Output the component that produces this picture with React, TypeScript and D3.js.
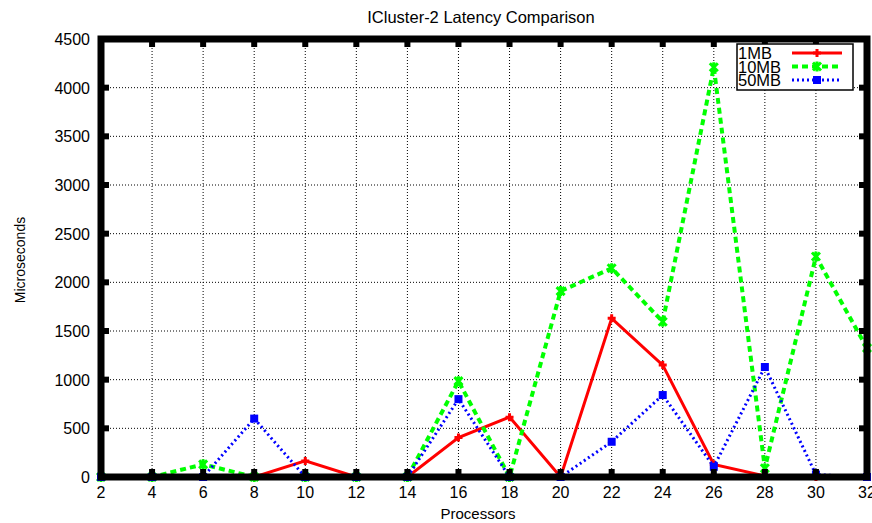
import { useRef, useEffect } from 'react';
import * as d3 from 'd3';

const processors = [2, 4, 6, 8, 10, 12, 14, 16, 18, 20, 22, 24, 26, 28, 30, 32];
const mb1 = [0, 0, 0, 0, 165, 0, 0, 405, 615, 0, 1630, 1150, 130, 10, 0, 0];
const mb10 = [0, 0, 130, 0, 0, 0, 0, 985, 0, 1910, 2145, 1595, 4210, 90, 2265, 1325];
const mb50 = [0, 0, 0, 600, 0, 0, 0, 800, 0, 0, 362, 842, 105, 1130, 25, 0];
const yTicks = [0, 500, 1000, 1500, 2000, 2500, 3000, 3500, 4000, 4500];

const W = 872;
const H = 523;
const FONT = "'Liberation Sans', Arial, sans-serif";

export default function App() {
	const svgRef = useRef<SVGSVGElement>(null);

	useEffect(() => {
		const svg = d3.select(svgRef.current);
		svg.selectAll('*').remove();

		const left = 101;
		const right = 867;
		const top = 39;
		const bottom = 477;

		const x = d3.scaleLinear().domain([2, 32]).range([left, right]);
		const y = d3.scaleLinear().domain([0, 4500]).range([bottom, top]);

		svg.append('rect').attr('width', W).attr('height', H).attr('fill', '#fff');

		// grid
		const grid = svg.append('g').attr('stroke', '#000').attr('stroke-width', 1).attr('stroke-dasharray', '1,2');
		processors.slice(1, -1).forEach((p) => {
			grid.append('line').attr('x1', x(p)).attr('x2', x(p)).attr('y1', top).attr('y2', bottom);
		});
		yTicks.slice(1, -1).forEach((v) => {
			grid.append('line').attr('x1', left).attr('x2', right).attr('y1', y(v)).attr('y2', y(v));
		});

		// series
		const series = [
			{ name: '1MB', values: mb1, color: '#ff0000', dash: null, width: 3, marker: 'plus' },
			{ name: '10MB', values: mb10, color: '#00ff00', dash: '6,4', width: 4, marker: 'cross' },
			{ name: '50MB', values: mb50, color: '#0000ff', dash: '2,3', width: 3, marker: 'square' },
		];

		const line = d3
			.line<number>()
			.x((_, i) => x(processors[i]))
			.y((d) => y(d));

		const drawMarker = (g: any, cx: number, cy: number, kind: string, color: string) => {
			if (kind === 'plus') {
				g.append('path')
					.attr('d', `M${cx - 4},${cy}H${cx + 4}M${cx},${cy - 4}V${cy + 4}`)
					.attr('stroke', color)
					.attr('stroke-width', 3);
			} else if (kind === 'cross') {
				g.append('path')
					.attr('d', `M${cx - 4},${cy - 4}L${cx + 4},${cy + 4}M${cx - 4},${cy + 4}L${cx + 4},${cy - 4}M${cx},${cy - 5}V${cy + 5}`)
					.attr('stroke', color)
					.attr('stroke-width', 3);
			} else {
				g.append('rect')
					.attr('x', cx - 4)
					.attr('y', cy - 4)
					.attr('width', 8)
					.attr('height', 8)
					.attr('fill', color);
			}
		};

		const plot = svg.append('g');
		series.forEach((s) => {
			const p = plot
				.append('path')
				.datum(s.values)
				.attr('d', line)
				.attr('fill', 'none')
				.attr('stroke', s.color)
				.attr('stroke-width', s.width)
				.attr('stroke-linejoin', 'miter');
			if (s.dash) p.attr('stroke-dasharray', s.dash);
			s.values.forEach((v, i) => drawMarker(plot, x(processors[i]), y(v), s.marker, s.color));
		});

		// frame
		svg.append('rect')
			.attr('x', left)
			.attr('y', top)
			.attr('width', right - left)
			.attr('height', bottom - top)
			.attr('fill', 'none')
			.attr('stroke', '#000')
			.attr('stroke-width', 7);

		// tick marks
		const ticks = svg.append('g').attr('fill', '#000');
		processors.slice(1, -1).forEach((p) => {
			ticks.append('rect').attr('x', x(p) - 3).attr('y', bottom - 8).attr('width', 6).attr('height', 8);
			ticks.append('rect').attr('x', x(p) - 3).attr('y', top).attr('width', 6).attr('height', 8);
		});
		yTicks.slice(1, -1).forEach((v) => {
			ticks.append('rect').attr('x', left).attr('y', y(v) - 3).attr('width', 8).attr('height', 6);
			ticks.append('rect').attr('x', right - 8).attr('y', y(v) - 3).attr('width', 8).attr('height', 6);
		});

		// tick labels
		const lab = svg.append('g').attr('font-family', FONT).attr('font-size', 16).attr('fill', '#000');
		processors.forEach((p) => {
			lab.append('text').attr('x', x(p)).attr('y', 498).attr('text-anchor', 'middle').text(p);
		});
		yTicks.forEach((v) => {
			lab.append('text').attr('x', 90).attr('y', y(v) + 6).attr('text-anchor', 'end').text(v);
		});

		// titles
		svg.append('text')
			.attr('x', 481)
			.attr('y', 23)
			.attr('text-anchor', 'middle')
			.attr('font-family', FONT)
			.attr('font-size', 16.5)
			.text('ICluster-2 Latency Comparison');
		svg.append('text')
			.attr('x', 478)
			.attr('y', 519)
			.attr('text-anchor', 'middle')
			.attr('font-family', FONT)
			.attr('font-size', 15)
			.text('Processors');
		svg.append('text')
			.attr('transform', `translate(25,260) rotate(-90)`)
			.attr('text-anchor', 'middle')
			.attr('font-family', FONT)
			.attr('font-size', 14)
			.text('Microseconds');

		// legend
		const lg = svg.append('g');
		lg.append('rect')
			.attr('x', 737)
			.attr('y', 44)
			.attr('width', 116)
			.attr('height', 46)
			.attr('fill', '#fff')
			.attr('stroke', '#000')
			.attr('stroke-width', 1.5);
		series.forEach((s, i) => {
			const ly = 53 + i * 13.5;
			lg.append('text')
				.attr('x', 738)
				.attr('y', ly + 6)
				.attr('font-family', FONT)
				.attr('font-size', 16.5)
				.text(s.name);
			const l = lg.append('line')
				.attr('x1', 792)
				.attr('x2', 842)
				.attr('y1', ly)
				.attr('y2', ly)
				.attr('stroke', s.color)
				.attr('stroke-width', s.width);
			if (s.dash) l.attr('stroke-dasharray', s.dash);
			drawMarker(lg, 817, ly, s.marker, s.color);
		});
	}, []);

	return (
		<svg
			ref={svgRef}
			width={W}
			height={H}
			style={{ position: 'absolute', left: 0, top: 0, display: 'block' }}
		/>
	);
}
